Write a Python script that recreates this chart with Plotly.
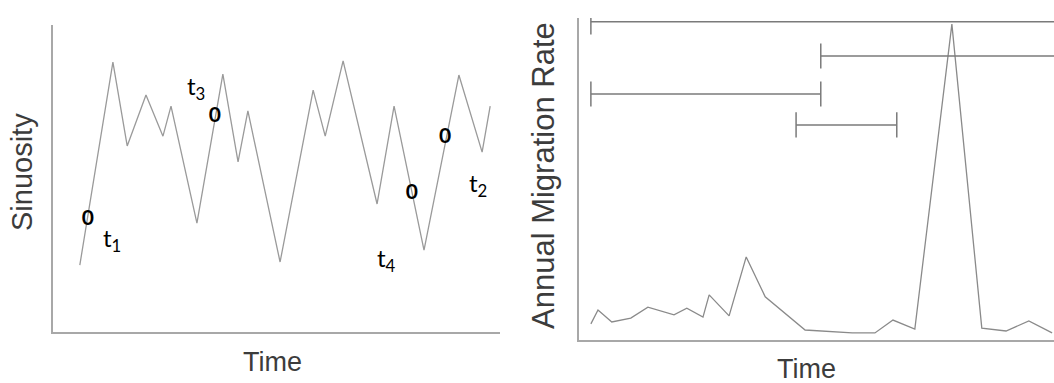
import plotly.graph_objects as go

# ---------------- Left panel: sinuosity through time ----------------
sin_time = [6.0, 13.4, 16.6, 20.8, 24.6, 26.4, 32.2, 38.0, 41.4, 43.6,
            50.8, 58.2, 60.9, 64.9, 72.5, 76.3, 83.0, 90.8, 96.0, 97.8]
sin_value = [21.8, 87.9, 60.6, 77.2, 63.8, 73.6, 35.5, 84.0, 55.4, 72.0,
             22.8, 78.8, 63.8, 88.3, 41.7, 73.6, 26.7, 83.7, 58.6, 73.6]

zero_time = [7.8, 36.2, 80.3, 87.7]
zero_value = [36.5, 70.0, 45.0, 63.2]

label_text = ["t<sub>1</sub>", "t<sub>3</sub>", "t<sub>4</sub>", "t<sub>2</sub>"]
label_time = [13.2, 32.0, 74.7, 95.1]
label_value = [30.0, 79.5, 23.5, 47.9]

# ---------------- Right panel: annual migration rate ----------------
mig_time = [2.5, 4.0, 6.9, 10.9, 14.5, 20.0, 22.7, 26.1, 27.4, 31.6, 35.2,
            39.2, 47.6, 57.5, 62.3, 66.1, 70.7, 78.5, 84.8, 89.9, 94.7, 99.6]
mig_rate = [5.0, 9.3, 5.6, 6.8, 10.2, 7.8, 9.9, 7.1, 14.0, 7.5, 25.8,
            13.4, 3.1, 2.2, 2.2, 6.2, 3.4, 98.1, 3.7, 2.8, 5.9, 2.2]

# interval bars: start, end, level, whether the right end has a cap
int_start = [2.5, 50.9, 2.5, 45.7]
int_end = [100.0, 100.0, 50.9, 66.9]
int_level = [98.8, 88.2, 76.4, 66.8]
int_right_cap = [False, False, True, True]

BAR_COLOR = "#7a7a7a"

fig = go.Figure()

fig.add_trace(go.Scatter(x=sin_time, y=sin_value, mode="lines",
                         line=dict(color="#9a9a9a", width=1.3),
                         xaxis="x", yaxis="y", showlegend=False, hoverinfo="skip"))

fig.add_trace(go.Scatter(x=zero_time, y=zero_value, mode="text", text=["0"] * len(zero_time),
                         textfont=dict(family="Lato", size=21, color="black", weight="bold"),
                         textposition="middle center",
                         xaxis="x", yaxis="y", showlegend=False, hoverinfo="skip"))

fig.add_trace(go.Scatter(x=mig_time, y=mig_rate, mode="lines",
                         line=dict(color="#8a8a8a", width=1.3),
                         xaxis="x2", yaxis="y2", showlegend=False, hoverinfo="skip"))

for s, e, lv, rc in zip(int_start, int_end, int_level, int_right_cap):
    fig.add_trace(go.Scatter(x=[s, e], y=[lv, lv], mode="lines",
                             line=dict(color=BAR_COLOR, width=1.5),
                             xaxis="x2", yaxis="y2", showlegend=False, hoverinfo="skip"))
    caps_x = [s, e] if rc else [s]
    fig.add_trace(go.Scatter(x=caps_x, y=[lv] * len(caps_x), mode="markers",
                             marker=dict(symbol="line-ns-open", size=18, color=BAR_COLOR,
                                         line=dict(color=BAR_COLOR, width=1.5)),
                             xaxis="x2", yaxis="y2", showlegend=False, hoverinfo="skip"))

annotations = []
for t, x, y in zip(label_text, label_time, label_value):
    annotations.append(dict(text=t, x=x, y=y, xref="x", yref="y", showarrow=False,
                            font=dict(family="Lato", size=24, color="black"),
                            xanchor="center", yanchor="middle"))

title_font = dict(family="Liberation Sans, Arial", size=29, color="#3c3c3c")
annotations += [
    dict(text="Sinuosity", x=22 / 1054, y=1 - 172 / 383, xref="paper", yref="paper",
         textangle=-90, showarrow=False, font=title_font, xanchor="center", yanchor="middle"),
    dict(text="Annual Migration Rate", x=543 / 1054, y=1 - 176 / 383, xref="paper", yref="paper",
         textangle=-90, showarrow=False, font=dict(title_font, size=31),
         xanchor="center", yanchor="middle"),
    dict(text="Time", x=272 / 1054, y=1 - 362 / 383, xref="paper", yref="paper",
         showarrow=False, font=dict(title_font, size=27), xanchor="center", yanchor="middle"),
    dict(text="Time", x=806 / 1054, y=1 - 369 / 383, xref="paper", yref="paper",
         showarrow=False, font=dict(title_font, size=27), xanchor="center", yanchor="middle"),
]

axis_style = dict(showline=True, linecolor="#a8a8a8", linewidth=1.5, showgrid=False,
                  zeroline=False, showticklabels=False, ticks="", fixedrange=True)

fig.update_layout(
    width=1054, height=383,
    margin=dict(l=0, r=0, t=0, b=0),
    paper_bgcolor="white", plot_bgcolor="white",
    xaxis=dict(axis_style, domain=[53 / 1054, 500 / 1054], range=[0, 100], anchor="y"),
    yaxis=dict(axis_style, domain=[1 - 332 / 383, 1 - 25 / 383], range=[0, 100], anchor="x"),
    xaxis2=dict(axis_style, domain=[579 / 1054, 1.0], range=[0, 100], anchor="y2"),
    yaxis2=dict(axis_style, domain=[1 - 340 / 383, 1 - 18 / 383], range=[0, 100], anchor="x2"),
    annotations=annotations,
    showlegend=False,
)

fig.write_html("out.html", config={"displayModeBar": False},
               post_script="document.body.style.margin='0';document.body.style.overflow='hidden';")
